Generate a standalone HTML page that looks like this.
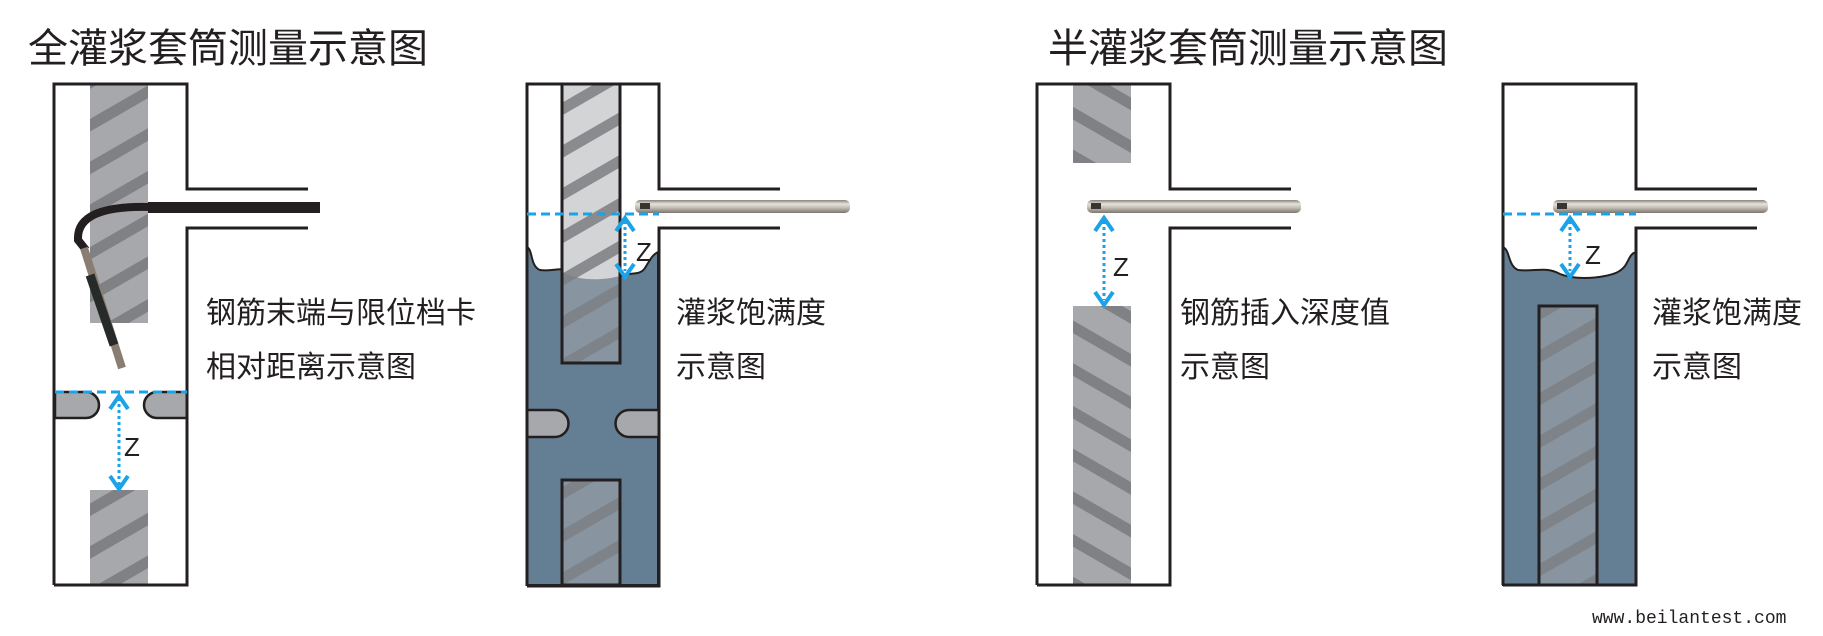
<!DOCTYPE html>
<html><head><meta charset="utf-8"><style>
html,body{margin:0;padding:0;background:#fff;}
svg{display:block;}
text{font-family:"Liberation Sans","Noto Sans CJK SC",sans-serif;fill:#231f20;}
</style></head><body>
<svg width="1823" height="636" viewBox="0 0 1823 636" xmlns="http://www.w3.org/2000/svg">
<defs>
<pattern id="hA" patternUnits="userSpaceOnUse" width="60" height="37" patternTransform="rotate(-30)">
<rect width="60" height="37" fill="#a7a8ab"/><rect y="0" width="60" height="11" fill="#808184"/></pattern>
<pattern id="hB" patternUnits="userSpaceOnUse" width="60" height="37" patternTransform="rotate(30)">
<rect width="60" height="37" fill="#a7a8ab"/><rect y="0" width="60" height="11" fill="#808184"/></pattern>
<pattern id="hL" patternUnits="userSpaceOnUse" width="60" height="37" patternTransform="rotate(-30)">
<rect width="60" height="37" fill="#d3d4d6"/><rect y="0" width="60" height="11" fill="#8a8b8e"/></pattern>
<pattern id="hG" patternUnits="userSpaceOnUse" width="60" height="37" patternTransform="rotate(-30)">
<rect width="60" height="37" fill="#8894a0"/><rect y="0" width="60" height="11" fill="#7e8389"/></pattern>
<linearGradient id="pr" x1="0" y1="0" x2="0" y2="1">
<stop offset="0" stop-color="#8a8178"/><stop offset="0.3" stop-color="#e4e2dc"/><stop offset="0.55" stop-color="#c9c5bd"/><stop offset="1" stop-color="#7d756c"/></linearGradient>
<g id="arrowV"><polyline points="-9,13 0,0 9,13" fill="none" stroke="#1aa3e8" stroke-width="4"/></g>
</defs>

<text x="28" y="62" font-size="40">全灌浆套筒测量示意图</text>
<text x="1048" y="62" font-size="40">半灌浆套筒测量示意图</text>

<!-- Sleeve 1 -->
<rect x="90" y="84" width="58" height="239" fill="url(#hA)"/>
<rect x="90" y="490" width="58" height="95" fill="url(#hA)"/>
<path d="M55,392 H86 a13,13 0 0 1 0,26 H55 Z" fill="#a7a8ab" stroke="#231f20" stroke-width="2.5"/>
<path d="M187,392 H157 a13,13 0 0 0 0,26 H187 Z" fill="#a7a8ab" stroke="#231f20" stroke-width="2.5"/>
<path d="M54,585 V84 H187 V189 H308 M308,228 H187 V585 H54" fill="none" stroke="#231f20" stroke-width="3"/>
<rect x="148" y="202" width="172" height="11" fill="#231f20"/>
<path d="M150,207 Q76,205 78,240 L86,250" fill="none" stroke="#231f20" stroke-width="8"/>
<path d="M84,248 L122,368" fill="none" stroke="#8a7d72" stroke-width="8"/>
<path d="M90,275 L114,345" fill="none" stroke="#262a28" stroke-width="9"/>
<line x1="55" y1="392" x2="187" y2="392" stroke="#1aa3e8" stroke-width="3" stroke-dasharray="9,5"/>
<line x1="119" y1="398" x2="119" y2="485" stroke="#1aa3e8" stroke-width="3" stroke-dasharray="3,3"/>
<use href="#arrowV" x="119" y="396"/>
<use href="#arrowV" x="119" y="489" transform="rotate(180 119 489)"/>
<text x="124" y="456" font-size="26">Z</text>
<text x="206" y="323" font-size="30">钢筋末端与限位档卡</text>
<text x="206" y="377" font-size="30">相对距离示意图</text>

<!-- Sleeve 2 -->
<path d="M527,247 C533,250 530,266 540,270 C552,272 560,266 575,272 C590,282 610,280 620,276 C630,272 640,276 645,268 C650,260 652,255 658,252 V585 H527 Z" fill="#647f94" stroke="#231f20" stroke-width="2"/>
<rect x="562" y="84" width="58" height="279" fill="url(#hL)"/>
<path d="M562,272 C580,282 605,280 620,276 V363 H562 Z" fill="url(#hG)"/>
<rect x="562" y="84" width="58" height="279" fill="none" stroke="#231f20" stroke-width="3"/>
<rect x="562" y="480" width="58" height="105" fill="url(#hG)" stroke="#231f20" stroke-width="3"/>
<path d="M527,410 H555 a13.5,13.5 0 0 1 0,27 H527 Z" fill="#a7a8ab" stroke="#231f20" stroke-width="2.5"/>
<path d="M659,410 H629 a13.5,13.5 0 0 0 0,27 H659 Z" fill="#a7a8ab" stroke="#231f20" stroke-width="2.5"/>
<path d="M527,586 V84 H659 V189 H780 M780,228 H659 V586 H527" fill="none" stroke="#231f20" stroke-width="3"/>
<rect x="635" y="200" width="215" height="13" rx="5" fill="url(#pr)"/>
<rect x="640" y="203" width="10" height="6" fill="#3a3430"/>
<line x1="527" y1="214" x2="659" y2="214" stroke="#1aa3e8" stroke-width="3" stroke-dasharray="9,5"/>
<line x1="625" y1="221" x2="625" y2="271" stroke="#1aa3e8" stroke-width="3" stroke-dasharray="3,3"/>
<use href="#arrowV" x="625" y="218"/>
<use href="#arrowV" x="625" y="277" transform="rotate(180 625 277)"/>
<text x="636" y="261" font-size="26">Z</text>
<text x="676" y="323" font-size="30">灌浆饱满度</text>
<text x="676" y="377" font-size="30">示意图</text>

<!-- Sleeve 3 -->
<rect x="1073" y="84" width="58" height="79" fill="url(#hB)"/>
<rect x="1073" y="306" width="58" height="279" fill="url(#hB)"/>
<path d="M1037,585 V84 H1170 V189 H1291 M1291,228 H1170 V585 H1037" fill="none" stroke="#231f20" stroke-width="3"/>
<rect x="1087" y="200" width="214" height="13" rx="5" fill="url(#pr)"/>
<rect x="1091" y="203" width="10" height="6" fill="#3a3430"/>
<line x1="1104" y1="221" x2="1104" y2="300" stroke="#1aa3e8" stroke-width="3" stroke-dasharray="3,3"/>
<use href="#arrowV" x="1104" y="218"/>
<use href="#arrowV" x="1104" y="305" transform="rotate(180 1104 305)"/>
<text x="1113" y="276" font-size="26">Z</text>
<text x="1180" y="323" font-size="30">钢筋插入深度值</text>
<text x="1180" y="377" font-size="30">示意图</text>

<!-- Sleeve 4 -->
<path d="M1503,247 C1510,250 1508,266 1518,270 C1535,272 1545,266 1560,274 C1575,280 1595,278 1605,276 C1615,274 1620,272 1625,266 C1630,258 1630,254 1636,252 V585 H1503 Z" fill="#647f94" stroke="#231f20" stroke-width="2"/>
<rect x="1539" y="306" width="58" height="279" fill="url(#hG)" stroke="#231f20" stroke-width="3"/>
<path d="M1503,585 V84 H1636 V189 H1757 M1757,228 H1636 V585 H1503" fill="none" stroke="#231f20" stroke-width="3"/>
<rect x="1553" y="200" width="215" height="13" rx="5" fill="url(#pr)"/>
<rect x="1557" y="203" width="10" height="6" fill="#3a3430"/>
<line x1="1503" y1="214" x2="1636" y2="214" stroke="#1aa3e8" stroke-width="3" stroke-dasharray="9,5"/>
<line x1="1570" y1="221" x2="1570" y2="271" stroke="#1aa3e8" stroke-width="3" stroke-dasharray="3,3"/>
<use href="#arrowV" x="1570" y="218"/>
<use href="#arrowV" x="1570" y="277" transform="rotate(180 1570 277)"/>
<text x="1585" y="264" font-size="26">Z</text>
<text x="1652" y="323" font-size="30">灌浆饱满度</text>
<text x="1652" y="377" font-size="30">示意图</text>

<text x="1592" y="623" font-size="18" style="font-family:'Liberation Mono',monospace">www.beilantest.com</text>
</svg>
</body></html>
